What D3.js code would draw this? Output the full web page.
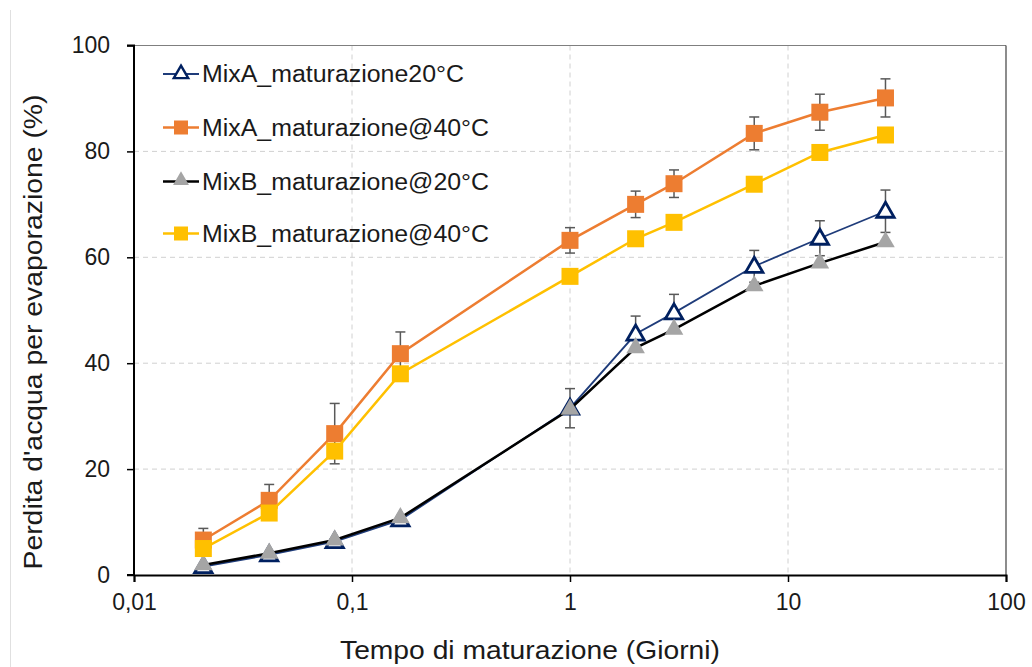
<!DOCTYPE html>
<html><head><meta charset="utf-8">
<script src="https://cdn.jsdelivr.net/npm/d3@7"></script>
<style>body{margin:0;background:#fff}svg{display:block;font-family:"Liberation Sans",Arial,sans-serif}</style>
</head><body><svg id="c" width="1032" height="667"></svg>
<script>
const days = [0.0208, 0.0417, 0.0833, 0.1667, 1, 2, 3, 7, 14, 28];
const mixA20 = [1.6, 3.8, 6.3, 10.4, 31.5, 45.5, 49.5, 58.3, 63.6, 68.7];
const mixA20err = [0.5, 0.5, 0.5, 0.5, 3.7, 3.4, 3.5, 3.0, 3.3, 4.0];
const mixA40 = [6.6, 14.1, 26.7, 41.8, 63.2, 70.0, 73.9, 83.4, 87.4, 90.1];
const mixA40err = [2.2, 3.0, 5.7, 4.1, 2.4, 2.5, 2.6, 3.1, 3.4, 3.6];
const mixB20 = [1.9, 4.1, 6.6, 10.8, 31.3, 42.9, 46.4, 54.6, 58.9, 62.9];
const mixB40 = [5.0, 11.7, 23.4, 38.0, 56.4, 63.5, 66.6, 73.8, 79.8, 83.1];
const seriesNames = ["MixA_maturazione20°C", "MixA_maturazione@40°C", "MixB_maturazione@20°C", "MixB_maturazione@40°C"];
const xTicks = [0.01, 0.1, 1, 10, 100];
const xTickLabels = ["0,01", "0,1", "1", "10", "100"];
const yTicks = [0, 20, 40, 60, 80, 100];

const svg = d3.select("#c");
const L = 134, R = 1006, T = 45.5, B = 575;
const x = d3.scaleLog().domain([0.01, 100]).range([L, R]);
const y = d3.scaleLinear().domain([0, 100]).range([B, T]);

svg.append("line").attr("x1", 10.5).attr("x2", 10.5).attr("y1", 10).attr("y2", 667).attr("stroke", "#e0e0e0").attr("stroke-width", 1);

// grid
svg.append("g").selectAll("line").data(yTicks.filter(d => d > 0 && d < 100)).join("line")
  .attr("x1", L).attr("x2", R).attr("y1", d => y(d)).attr("y2", d => y(d))
  .attr("stroke", "#d0d0d0").attr("stroke-dasharray", "5,4").attr("stroke-width", 1);
svg.append("g").selectAll("line").data([0.1, 1, 10]).join("line")
  .attr("x1", d => x(d)).attr("x2", d => x(d)).attr("y1", T).attr("y2", B)
  .attr("stroke", "#d0d0d0").attr("stroke-dasharray", "5,4").attr("stroke-width", 1);
svg.append("line").attr("x1", L).attr("x2", R).attr("y1", T).attr("y2", T).attr("stroke", "#7f7f7f").attr("stroke-width", 1.2);
svg.append("line").attr("x1", R).attr("x2", R).attr("y1", T).attr("y2", B).attr("stroke", "#404040").attr("stroke-width", 1.2);

// axes
const xAxis = d3.axisBottom(x).tickValues(xTicks).tickFormat((d, i) => xTickLabels[i]).tickSize(7).tickPadding(12);
const gx = svg.append("g").attr("transform", `translate(0,${B})`).call(xAxis);
const yAxis = d3.axisLeft(y).tickValues(yTicks).tickSize(7).tickPadding(17);
const gy = svg.append("g").attr("transform", `translate(${L},0)`).call(yAxis);
[gx, gy].forEach(g => {
  g.select(".domain").attr("stroke", "#000").attr("stroke-width", 2);
  g.selectAll(".tick line").attr("stroke", "#000").attr("stroke-width", 1.5);
  g.selectAll("text").attr("font-size", 23).attr("fill", "#1a1a1a").attr("font-family", "Liberation Sans, Arial, sans-serif");
});
gy.select(".domain").attr("d", `M-7,${B}H0V${T}H-7`);

// titles
svg.append("text").attr("x", 530).attr("y", 659).attr("text-anchor", "middle").attr("font-size", 25)
  .attr("textLength", 380).attr("lengthAdjust", "spacingAndGlyphs").attr("fill", "#1a1a1a").text("Tempo di maturazione (Giorni)");
svg.append("text").attr("transform", `translate(42,332) rotate(-90)`).attr("text-anchor", "middle").attr("font-size", 25)
  .attr("textLength", 475).attr("lengthAdjust", "spacingAndGlyphs").attr("fill", "#1a1a1a").text("Perdita d'acqua per evaporazione (%)");

const line = d3.line().x((d, i) => x(days[i])).y(d => y(d));
const tri = d3.symbol().type(d3.symbolTriangle);
const sq = 17;

function errBars(vals, errs, color) {
  const g = svg.append("g");
  vals.forEach((v, i) => {
    const cx = x(days[i]);
    g.append("line").attr("x1", cx).attr("x2", cx).attr("y1", y(v - errs[i])).attr("y2", y(v + errs[i])).attr("stroke", color).attr("stroke-width", 1.5);
    [v - errs[i], v + errs[i]].forEach(e => g.append("line").attr("x1", cx - 5).attr("x2", cx + 5).attr("y1", y(e)).attr("y2", y(e)).attr("stroke", color).attr("stroke-width", 1.5));
  });
}

svg.append("path").datum(mixA20).attr("d", line).attr("fill", "none").attr("stroke", "#1F3C7A").attr("stroke-width", 1.8);
errBars(mixA20, mixA20err, "#595959");
svg.append("g").selectAll("path").data(mixA20).join("path")
  .attr("d", tri.size(130)).attr("transform", (d, i) => `translate(${x(days[i])},${y(d) + 1})`)
  .attr("fill", "#fff").attr("stroke", "#002060").attr("stroke-width", 2.8);
svg.append("path").datum(mixA40).attr("d", line).attr("fill", "none").attr("stroke", "#ED7D31").attr("stroke-width", 2.5);
errBars(mixA40, mixA40err, "#595959");
svg.append("g").selectAll("rect").data(mixA40).join("rect")
  .attr("x", (d, i) => x(days[i]) - sq / 2).attr("y", d => y(d) - sq / 2).attr("width", sq).attr("height", sq).attr("fill", "#ED7D31");
svg.append("path").datum(mixB20).attr("d", line).attr("fill", "none").attr("stroke", "#000").attr("stroke-width", 2.5);
svg.append("g").selectAll("path").data(mixB20).join("path")
  .attr("d", tri.size(150)).attr("transform", (d, i) => `translate(${x(days[i])},${y(d)})`)
  .attr("fill", "#A5A5A5");
svg.append("path").datum(mixB40).attr("d", line).attr("fill", "none").attr("stroke", "#FFC000").attr("stroke-width", 2.5);
svg.append("g").selectAll("rect").data(mixB40).join("rect")
  .attr("x", (d, i) => x(days[i]) - sq / 2).attr("y", d => y(d) - sq / 2).attr("width", sq).attr("height", sq).attr("fill", "#FFC000");

// legend
const legY = [74, 127.5, 181.5, 233.5];
const legLen = [262, 287, 287, 287];
const lg = svg.append("g");
const legStyles = [
  {line: "#1F3C7A", lw: 1.8, mk: "triH"},
  {line: "#ED7D31", lw: 2.5, mk: "sq", fill: "#ED7D31"},
  {line: "#000", lw: 2.5, mk: "tri", fill: "#A5A5A5"},
  {line: "#FFC000", lw: 2.5, mk: "sq", fill: "#FFC000"}
];
seriesNames.forEach((n, i) => {
  const yy = legY[i], s = legStyles[i];
  lg.append("line").attr("x1", 163).attr("x2", 199).attr("y1", yy).attr("y2", yy).attr("stroke", s.line).attr("stroke-width", s.lw);
  if (s.mk === "sq") lg.append("rect").attr("x", 181 - 7).attr("y", yy - 7).attr("width", 14).attr("height", 14).attr("fill", s.fill);
  else if (s.mk === "triH") lg.append("path").attr("d", d3.symbol().type(d3.symbolTriangle).size(90)()).attr("transform", `translate(181,${yy})`).attr("fill", "#fff").attr("stroke", "#002060").attr("stroke-width", 2.4);
  else lg.append("path").attr("d", d3.symbol().type(d3.symbolTriangle).size(110)()).attr("transform", `translate(181,${yy - 1})`).attr("fill", s.fill);
  lg.append("text").attr("x", 202).attr("y", yy + 8).attr("font-size", 23).attr("textLength", legLen[i]).attr("lengthAdjust", "spacingAndGlyphs").attr("fill", "#1a1a1a").text(n);
});
</script></body></html>
